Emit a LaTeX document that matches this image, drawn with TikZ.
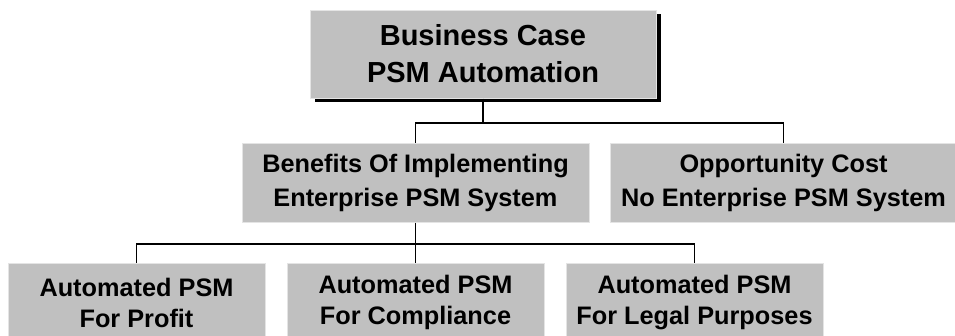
\documentclass[tikz,border=0pt]{standalone}
\usepackage{fontspec}
\setmainfont{Liberation Sans}
\usetikzlibrary{shadows}
\definecolor{boxgray}{RGB}{192,192,192}
\definecolor{boxedge}{RGB}{228,228,228}
\begin{document}
\begin{tikzpicture}[x=1pt, y=-1pt, line width=1.3pt,
	box/.style = {rectangle, draw=boxedge, line width=1pt, fill=boxgray, align=center,
		inner sep=0pt, font=\bfseries\fontsize{25.3}{31}\selectfont},
	topbox/.style = {box, minimum width=346pt, minimum height=88pt,
		font=\bfseries\fontsize{29}{37}\selectfont,
		drop shadow={shadow xshift=5pt, shadow yshift=-4pt, fill=black, opacity=1}},
	midbox/.style = {box, minimum width=347pt, minimum height=79pt,
		font=\bfseries\fontsize{25.3}{34}\selectfont},
	lowbox/.style = {box, minimum width=257pt, minimum height=79pt}]
	\useasboundingbox (0,0) rectangle (955,335);
	\node (case)	at (483.0,  54.0)	[topbox]	{Business Case\\PSM Automation};
	\node (benefit)	at (415.5, 182.5)	[midbox]	{Benefits Of Implementing\\Enterprise PSM System};
	\node (cost)	at (783.5, 182.5)	[midbox]	{Opportunity Cost\\No Enterprise PSM System};
	\node (profit)	at (136.5, 302.5)	[lowbox]	{Automated PSM\\For Profit};
	\node (comply)	at (415.5, 302.5)	[lowbox]	{Automated PSM\\For Compliance};
	\node (legal)	at (694.5, 302.5)	[lowbox]	{Automated PSM\\For Legal Purposes};
	\coordinate (top split)	at (483.0, 123.0);
	\coordinate (low split)	at (415.5, 244.0);
	\draw (case.south) -- (top split);
	\draw (benefit.north) |- (top split) -| (cost.north);
	\draw (benefit.south) -- (comply.north);
	\draw (profit.north) |- (low split) -| (legal.north);
\end{tikzpicture}
\end{document}
